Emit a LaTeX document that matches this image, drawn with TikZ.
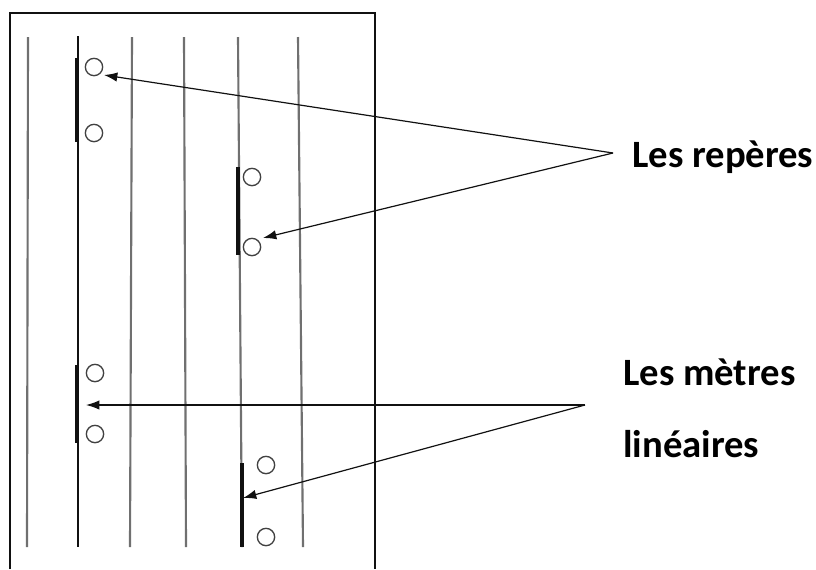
\documentclass[tikz,border=0pt]{standalone}
\usepackage{fontspec}
\setmainfont{Carlito}
\usetikzlibrary{positioning,arrows.meta}
\definecolor{ink}{HTML}{111111}
\definecolor{rule}{HTML}{707070}
\tikzset{
  ring/.style={draw=ink!80, circle, line width=1pt, inner sep=0pt, minimum size=13pt},
  bar/.style={ink, line width=3pt},
  pointer/.style={ink, line width=0.9pt, -{Latex[length=10pt,width=7pt]}},
  label/.style={font=\fontsize{29}{34}\bfseries\selectfont, anchor=base west, inner sep=0pt}
}
\begin{document}
\begin{tikzpicture}[x=0.75pt,y=-0.75pt]
        \useasboundingbox (0,0) rectangle (816,569);
        \draw[ink, line width=1pt] (10,569) -- (10,13) -- (375,13) -- (375,569);
        \foreach \xa/\xb in {28/27,132/130,184/186,238/242,298/303} \draw[rule, line width=1.6pt] (\xa,37) -- (\xb,547);
        \draw[ink, line width=0.9pt] (78,36) -- (78,547);
        \draw[bar] (77,58) -- (77,142);
        \draw[bar] (238,167) -- (238,255);
        \draw[bar] (77,365) -- (77,443);
        \draw[bar] (242,463) -- (242,547);
        \node[ring] (o1a) at (94,67) {};
        \node[ring] (o1b) at (94,133) {};
        \node[ring] (o2a) at (252,177) {};
        \node[ring] (o2b) at (252,247) {};
        \node[ring] (o3a) at (95,373) {};
        \node[ring] (o3b) at (95,434) {};
        \node[ring] (o4a) at (266,465) {};
        \node[ring] (o4b) at (266,537) {};
        \node[label] (reperes) at (632,167) {Les repères};
        \node[label] (metres) at (623,385) {Les mètres};
        \node[label] (lineaires) at ([yshift=-54pt]metres.base west) {linéaires};
        \coordinate (rfrom) at (613,153);
        \coordinate (mfrom) at (585,405);
        \coordinate (t1) at (104,75);
        \coordinate (t2) at (263,238);
        \coordinate (t3) at (86,405);
        \coordinate (t4) at (243,498);
        \draw[pointer] (rfrom) -- (t1);
        \draw[pointer] (rfrom) -- (t2);
        \draw[pointer] (mfrom) -- (t3);
        \draw[pointer] (mfrom) -- (t4);
      \end{tikzpicture}
\end{document}
